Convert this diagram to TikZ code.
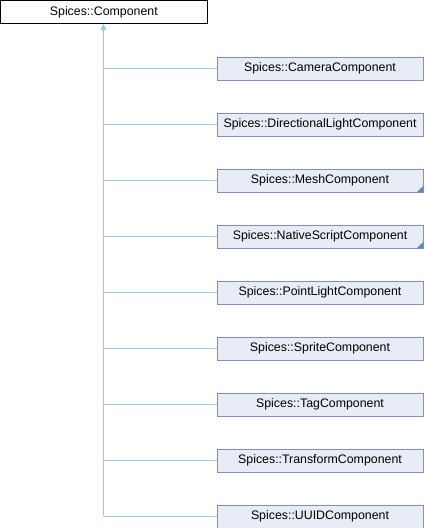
\documentclass[tikz,border=0pt]{standalone}
\usepackage{fontspec}
\setmainfont{Liberation Sans}
\definecolor{edgec}{RGB}{155,200,232}
\definecolor{boxfill}{RGB}{232,236,246}
\definecolor{boxdraw}{RGB}{128,144,196}
\definecolor{trifill}{RGB}{100,134,204}
\begin{document}
\begin{tikzpicture}[x=1bp,y=-1bp,
  base/.style={draw=black,fill=white,line width=0.8bp,minimum width=207bp,minimum height=23bp,inner sep=0pt,font=\fontsize{12.4}{14}\selectfont},
  child/.style={draw=boxdraw,fill=boxfill,line width=0.8bp,minimum width=206bp,minimum height=23bp,inner sep=0pt,font=\fontsize{12.4}{14}\selectfont},
  edge/.style={draw=edgec,line width=0.8bp}]
\useasboundingbox (0,0) rectangle (424,528);
\node[base] (top) at (103.8,12) {Spices::Component};
\coordinate (trunk) at (103.5,515.5);
\foreach \n/\t [count=\k from 0] in {cam/CameraComponent,dir/DirectionalLightComponent,mesh/MeshComponent,nat/NativeScriptComponent,pt/PointLightComponent,spr/SpriteComponent,tag/TagComponent,tr/TransformComponent,uuid/UUIDComponent}{
  \node[child] (\n) at (320,68.5+56*\k) {Spices::\t};
  \coordinate (j\n) at (103.5,68.5+56*\k);
  \draw[edge] (j\n) -- (\n.west);
}
\draw[edge] (top.south -| trunk) ++(0,6) -- (trunk);
\fill[edgec] (top.south -| trunk) -- ++(3,6) -- ++(-6,0) -- cycle;
\foreach \n in {mesh,nat}{
  \fill[trifill] (\n.south east) ++(-0.4,-0.4) -- ++(0,-6) -- ++(-6,6) -- cycle;
}
\end{tikzpicture}
\end{document}
